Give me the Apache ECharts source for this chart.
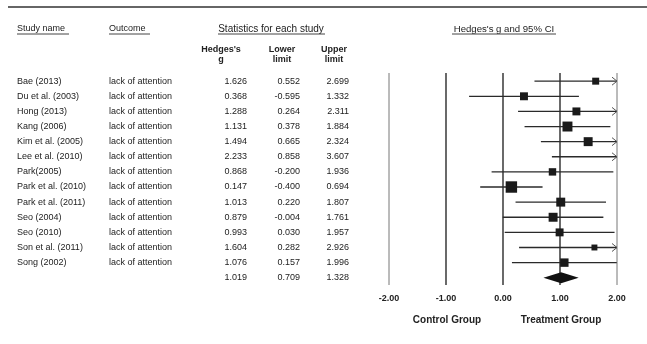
<!DOCTYPE html>
<html>
<head>
<meta charset="utf-8">
<script src="https://cdn.jsdelivr.net/npm/echarts@6/dist/echarts.min.js"></script>
<style>
  html, body { margin: 0; padding: 0; background: #fff; }
  #chart { width: 647px; height: 344px; }
</style>
</head>
<body>
<div id="chart"></div>
<script>
// Forest plot: Hedges's g with 95% confidence intervals per study
const studyNames = ['Bae (2013)', 'Du et al. (2003)', 'Hong (2013)', 'Kang (2006)', 'Kim et al. (2005)',
  'Lee et al. (2010)', 'Park(2005)', 'Park et al. (2010)', 'Park et al. (2011)', 'Seo (2004)',
  'Seo (2010)', 'Son et al. (2011)', 'Song (2002)'];
const outcomes = ['lack of attention', 'lack of attention', 'lack of attention', 'lack of attention',
  'lack of attention', 'lack of attention', 'lack of attention', 'lack of attention', 'lack of attention',
  'lack of attention', 'lack of attention', 'lack of attention', 'lack of attention'];
const hedgesG   = [1.626, 0.368, 1.288, 1.131, 1.494, 2.233, 0.868, 0.147, 1.013, 0.879, 0.993, 1.604, 1.076];
const lowerLim  = [0.552, -0.595, 0.264, 0.378, 0.665, 0.858, -0.200, -0.400, 0.220, -0.004, 0.030, 0.282, 0.157];
const upperLim  = [2.699, 1.332, 2.311, 1.884, 2.324, 3.607, 1.936, 0.694, 1.807, 1.761, 1.957, 2.926, 1.996];
// relative study weights (%), shown as box area
const relWeight = [5.4, 7.0, 7.0, 11.0, 8.9, 3.5, 6.1, 14.5, 8.9, 8.9, 7.0, 3.9, 7.9];
const pooledG = 1.019;
const pooledLower = 0.709;
const pooledUpper = 1.328;
const xTicks = [-2, -1, 0, 1, 2];
const groupLabels = ['Control Group', 'Treatment Group'];

const X_MIN = -2, X_MAX = 2;
const FONT = '"Liberation Sans", Arial, sans-serif';
const TXT = '#222';
const nRows = studyNames.length + 1;   // studies + pooled row

const studyData = hedgesG.map((g, i) => [i, g, lowerLim[i], upperLim[i], relWeight[i]]);
const tableData = studyNames.map((n, i) => [i, n, outcomes[i], hedgesG[i], lowerLim[i], upperLim[i]]);
tableData.push([studyNames.length, '', '', pooledG, pooledLower, pooledUpper]);

function txt(text, x, y, opts) {
  return {
    type: 'text',
    style: Object.assign({
      text: text, x: x, y: y, fill: TXT, fontSize: 9, fontFamily: FONT,
      align: 'left', verticalAlign: 'middle'
    }, opts || {})
  };
}

const chart = echarts.init(document.getElementById('chart'), null, { renderer: 'canvas' });

chart.setOption({
  animation: false,
  backgroundColor: '#fff',
  grid: { left: 389, top: 73, width: 228, height: 212, containLabel: false },
  xAxis: {
    type: 'value', min: X_MIN, max: X_MAX, interval: 1,
    axisLine: { show: false }, axisTick: { show: false }, splitLine: { show: false },
    axisLabel: {
      margin: 9, color: TXT, fontSize: 9, fontWeight: 'bold', fontFamily: FONT,
      formatter: v => v.toFixed(2)
    }
  },
  yAxis: { type: 'value', min: -0.54, max: nRows - 0.52, inverse: true, show: false },
  graphic: [
    { type: 'line', shape: { x1: 8, y1: 7, x2: 647, y2: 7 }, style: { stroke: '#666', lineWidth: 2 } },
    txt('Study name', 17, 29),
    { type: 'line', shape: { x1: 17, y1: 34, x2: 69, y2: 34 }, style: { stroke: '#444', lineWidth: 1 } },
    txt('Outcome', 109, 29),
    { type: 'line', shape: { x1: 109, y1: 34, x2: 150, y2: 34 }, style: { stroke: '#444', lineWidth: 1 } },
    txt('Statistics for each study', 271, 29, { align: 'center', fontSize: 10 }),
    { type: 'line', shape: { x1: 218, y1: 34, x2: 325, y2: 34 }, style: { stroke: '#444', lineWidth: 1 } },
    txt("Hedges's g and 95% CI", 504, 29, { align: 'center', fontSize: 9.6 }),
    { type: 'line', shape: { x1: 452, y1: 34, x2: 556, y2: 34 }, style: { stroke: '#444', lineWidth: 1 } },
    txt("Hedges's", 221, 50, { align: 'center', fontWeight: 'bold' }),
    txt('g', 221, 60, { align: 'center', fontWeight: 'bold' }),
    txt('Lower', 282, 50, { align: 'center', fontWeight: 'bold' }),
    txt('limit', 282, 60, { align: 'center', fontWeight: 'bold' }),
    txt('Upper', 334, 50, { align: 'center', fontWeight: 'bold' }),
    txt('limit', 334, 60, { align: 'center', fontWeight: 'bold' }),
    txt(groupLabels[0], 447, 320, { align: 'center', fontWeight: 'bold', fontSize: 10 }),
    txt(groupLabels[1], 561, 320, { align: 'center', fontWeight: 'bold', fontSize: 10 })
  ],
  series: [
    {
      // vertical reference lines at each tick
      type: 'custom', silent: true,
      data: xTicks.map(v => [v]),
      renderItem: (params, api) => {
        const v = api.value(0);
        const cs = params.coordSys;
        const x = api.coord([v, 0])[0];
        const outer = (v === X_MIN || v === X_MAX);
        return {
          type: 'line',
          shape: { x1: x, y1: cs.y, x2: x, y2: cs.y + cs.height },
          style: { stroke: outer ? '#777' : '#444', lineWidth: outer ? 1 : 1.6 }
        };
      }
    },
    {
      // study confidence intervals and weighted boxes
      type: 'custom', silent: true,
      data: studyData,
      renderItem: (params, api) => {
        const row = api.value(0), g = api.value(1), lo = api.value(2), hi = api.value(3), w = api.value(4);
        const a = api.coord([Math.max(lo, X_MIN), row]);
        const b = api.coord([Math.min(hi, X_MAX), row]);
        const children = [{
          type: 'line',
          shape: { x1: a[0], y1: a[1], x2: b[0], y2: b[1] },
          style: { stroke: '#2a2a2a', lineWidth: 1.3 }
        }];
        if (hi > X_MAX) {
          children.push({
            type: 'polyline',
            shape: { points: [[b[0] - 5, b[1] - 4], [b[0], b[1]], [b[0] - 5, b[1] + 4]] },
            style: { stroke: '#555', lineWidth: 1, fill: null }
          });
        }
        if (lo < X_MIN) {
          children.push({
            type: 'polyline',
            shape: { points: [[a[0] + 5, a[1] - 4], [a[0], a[1]], [a[0] + 5, a[1] + 4]] },
            style: { stroke: '#555', lineWidth: 1, fill: null }
          });
        }
        if (g >= X_MIN && g <= X_MAX) {
          const c = api.coord([g, row]);
          const s = 3.0 * Math.sqrt(w);
          children.push({
            type: 'rect',
            shape: { x: c[0] - s / 2, y: c[1] - s / 2, width: s, height: s },
            style: { fill: '#1a1a1a' }
          });
        }
        return { type: 'group', children: children };
      }
    },
    {
      // pooled estimate diamond
      type: 'custom', silent: true,
      data: [[studyNames.length, pooledG, pooledLower, pooledUpper]],
      renderItem: (params, api) => {
        const row = api.value(0);
        const c = api.coord([api.value(1), row]);
        const l = api.coord([api.value(2), row]);
        const r = api.coord([api.value(3), row]);
        const h = 5.5;
        return {
          type: 'polygon',
          shape: { points: [[l[0], c[1]], [c[0], c[1] - h], [r[0], c[1]], [c[0], c[1] + h]] },
          style: { fill: '#111' }
        };
      }
    },
    {
      // study table columns, aligned to plot rows
      type: 'custom', silent: true, clip: false,
      data: tableData,
      renderItem: (params, api) => {
        const d = tableData[params.dataIndex];
        const y = api.coord([0, d[0]])[1];
        return {
          type: 'group',
          children: [
            txt(d[1], 17, y),
            txt(d[2], 109, y),
            txt(d[3].toFixed(3), 247, y, { align: 'right' }),
            txt(d[4].toFixed(3), 300, y, { align: 'right' }),
            txt(d[5].toFixed(3), 349, y, { align: 'right' })
          ]
        };
      }
    }
  ]
});
</script>
</body>
</html>
